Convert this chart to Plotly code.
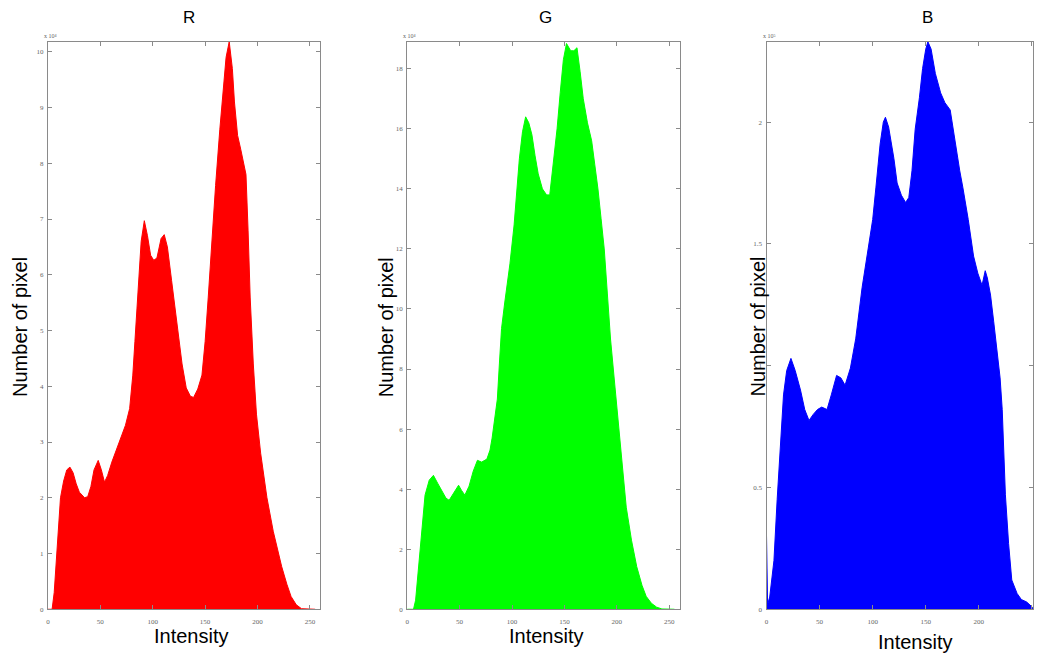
import plotly.graph_objects as go

W, H = 1037, 655

# ---- data ----
r_x = [0, 4, 6, 8, 10, 12, 15, 18, 21, 24, 27, 30, 35, 38, 41, 44, 48, 51, 54, 57, 61, 65, 70, 74, 78, 81, 83, 85, 87, 89,
       92, 95, 98, 101, 104, 108, 111, 114, 118, 123, 128, 132, 136, 139, 143, 147, 150, 153, 156, 160, 164, 167, 170,
       173, 176, 178, 181, 184, 187, 189, 191, 193, 196, 199, 203, 209, 215, 223, 228, 232, 237, 242, 255]
r_y = [0, 0, 0.3, 0.9, 1.5, 2.0, 2.3, 2.5, 2.55, 2.45, 2.25, 2.1, 2.0, 2.02, 2.2, 2.5, 2.67, 2.5, 2.28, 2.4, 2.64, 2.85,
       3.1, 3.3, 3.6, 4.2, 4.8, 5.4, 6.0, 6.6, 6.97, 6.7, 6.35, 6.26, 6.3, 6.65, 6.72, 6.5, 5.9, 5.1, 4.4, 3.97, 3.82,
       3.8, 3.95, 4.2, 4.8, 5.6, 6.5, 7.6, 8.6, 9.3, 9.9, 10.18, 9.7, 9.1, 8.5, 8.25, 8.0, 7.8, 6.8, 5.6, 4.4, 3.5, 2.8,
       2.0, 1.4, 0.77, 0.45, 0.23, 0.08, 0.01, 0]

g_x = [0, 6, 8, 11, 14, 17, 21, 25, 29, 33, 37, 40, 44, 49, 52, 55, 59, 63, 67, 71, 76, 79, 81, 84, 86, 88, 90, 93, 95,
       98, 102, 105, 107, 110, 113, 116, 119, 122, 125, 129, 133, 136, 139, 143, 146, 149, 152, 156, 159, 162, 165, 168,
       172, 176, 179, 182, 185, 188, 191, 194, 198, 202, 205, 209, 214, 219, 224, 228, 233, 238, 243, 255]
g_y = [0, 0, 0.3, 1.5, 2.8, 3.8, 4.3, 4.46, 4.2, 3.95, 3.7, 3.63, 3.85, 4.13, 3.95, 3.8, 4.1, 4.6, 4.96, 4.9, 5.0, 5.3,
       5.7, 6.4, 7.0, 8.2, 9.35, 10.2, 10.7, 11.5, 12.8, 14.0, 15.0, 15.9, 16.4, 16.2, 15.8, 15.1, 14.5, 14.0, 13.8,
       13.8, 14.7, 16.0, 17.2, 18.3, 18.84, 18.6, 18.6, 18.7, 17.9, 17.0, 16.2, 15.6, 14.8, 14.0, 13.0, 12.0, 10.5, 9.0,
       7.5, 6.05, 4.8, 3.4, 2.3, 1.42, 0.8, 0.43, 0.2, 0.07, 0.01, 0]

b_x = [0, 1, 3, 7, 10, 13, 16, 19, 23, 27, 32, 36, 40, 44, 48, 52, 57, 61, 66, 70, 74, 79, 84, 90, 96, 100, 103, 107,
       110, 112, 115, 117, 120, 123, 127, 131, 134, 137, 140, 144, 147, 150, 152, 155, 159, 164, 168, 173, 178, 182, 185,
       190, 195, 199, 203, 206, 208, 211, 214, 217, 220, 222, 224, 225, 228, 231, 236, 240, 245, 250, 251]
b_y = [0.3, 0.02, 0.05, 0.2, 0.45, 0.68, 0.88, 0.98, 1.03, 0.98, 0.9, 0.82, 0.775, 0.8, 0.82, 0.83, 0.82, 0.88, 0.96,
       0.95, 0.92, 0.99, 1.11, 1.32, 1.48, 1.6, 1.73, 1.91, 2.0, 2.02, 1.98, 1.93, 1.85, 1.75, 1.7, 1.67, 1.69, 1.8, 1.97,
       2.1, 2.22, 2.3, 2.33, 2.3, 2.2, 2.12, 2.08, 2.05, 1.9, 1.8, 1.73, 1.6, 1.45, 1.38, 1.33, 1.39, 1.36, 1.29, 1.18,
       1.07, 0.95, 0.82, 0.6, 0.47, 0.27, 0.12, 0.065, 0.04, 0.03, 0.01, 0]

titles = ["R", "G", "B"]
colors = ["#ff0000", "#00ff00", "#0000ff"]
exponents = ["x 10\u2074", "x 10\u2074", "x 10\u2075"]
x_ranges = [[0, 260], [0, 260], [0, 251]]
y_ranges = [[0, 10.18], [0, 18.9], [0, 2.33]]
y_dticks = [1, 2, 0.5]
x_ticks = [0, 50, 100, 150, 200, 250]


def px(x):
    return x / W


def py(y):
    return (H - y) / H


# ---- layout in window pixels ----
panels_px = [(46, 319), (406, 679), (766, 1033)]
top_px, bot_px = 42, 613
ydom = [py(bot_px), py(top_px)]

fig = go.Figure()
series = [(r_x, r_y), (g_x, g_y), (b_x, b_y)]
annotations = []
title_x_px = [187, 545, 927]
xlabel_pos = [(189, 640), (545, 640), (915, 646)]
ylabel_x_px = [18, 385, 757]

for i, (xs, ys) in enumerate(series):
    ax = "" if i == 0 else str(i + 1)
    fig.add_trace(go.Scatter(x=xs, y=ys, mode="lines", fill="tozeroy",
                             line=dict(color=colors[i], width=1), fillcolor=colors[i],
                             xaxis="x" + ax, yaxis="y" + ax, hoverinfo="skip", showlegend=False))
    l, r = panels_px[i]
    axis_common = dict(showline=True, linecolor="#8a8a8a", linewidth=1, mirror="ticks",
                       ticks="inside", ticklen=4, tickcolor="#8a8a8a", showgrid=False, zeroline=False,
                       tickfont=dict(size=7, color="#666666", family="Liberation Serif"))
    fig.update_layout(**{
        "xaxis" + ax: dict(domain=[px(l), px(r)], range=x_ranges[i], tickvals=x_ticks,
                           anchor="y" + ax, ticklabelstandoff=5, **axis_common),
        "yaxis" + ax: dict(domain=ydom, range=y_ranges[i], dtick=y_dticks[i], tick0=0,
                           anchor="x" + ax, ticklabelstandoff=2, **axis_common),
    })
    annotations.append(dict(text=titles[i], x=px(title_x_px[i]), y=py(18), xref="paper", yref="paper",
                            showarrow=False, font=dict(size=17, color="black", family="Liberation Sans"),
                            xanchor="center", yanchor="middle"))
    annotations.append(dict(text="Intensity", x=px(xlabel_pos[i][0]), y=py(xlabel_pos[i][1]),
                            xref="paper", yref="paper", showarrow=False,
                            font=dict(size=20, color="black", family="Liberation Sans"),
                            xanchor="center", yanchor="middle"))
    annotations.append(dict(text="Number of pixel", x=px(ylabel_x_px[i]), y=py(329),
                            xref="paper", yref="paper", showarrow=False, textangle=-90,
                            font=dict(size=20, color="black", family="Liberation Sans"),
                            xanchor="center", yanchor="middle"))
    annotations.append(dict(text=exponents[i], x=px(l - 6), y=py(36), xref="paper", yref="paper",
                            showarrow=False, font=dict(size=6, color="#666666", family="Liberation Serif"),
                            xanchor="left", yanchor="middle"))

fig.update_layout(width=W, height=H, margin=dict(l=0, r=0, t=0, b=0),
                  paper_bgcolor="white", plot_bgcolor="white", annotations=annotations)

fig.write_html("out.html", config={"displayModeBar": False},
               post_script="document.body.style.margin='0';document.body.style.overflow='hidden';")
